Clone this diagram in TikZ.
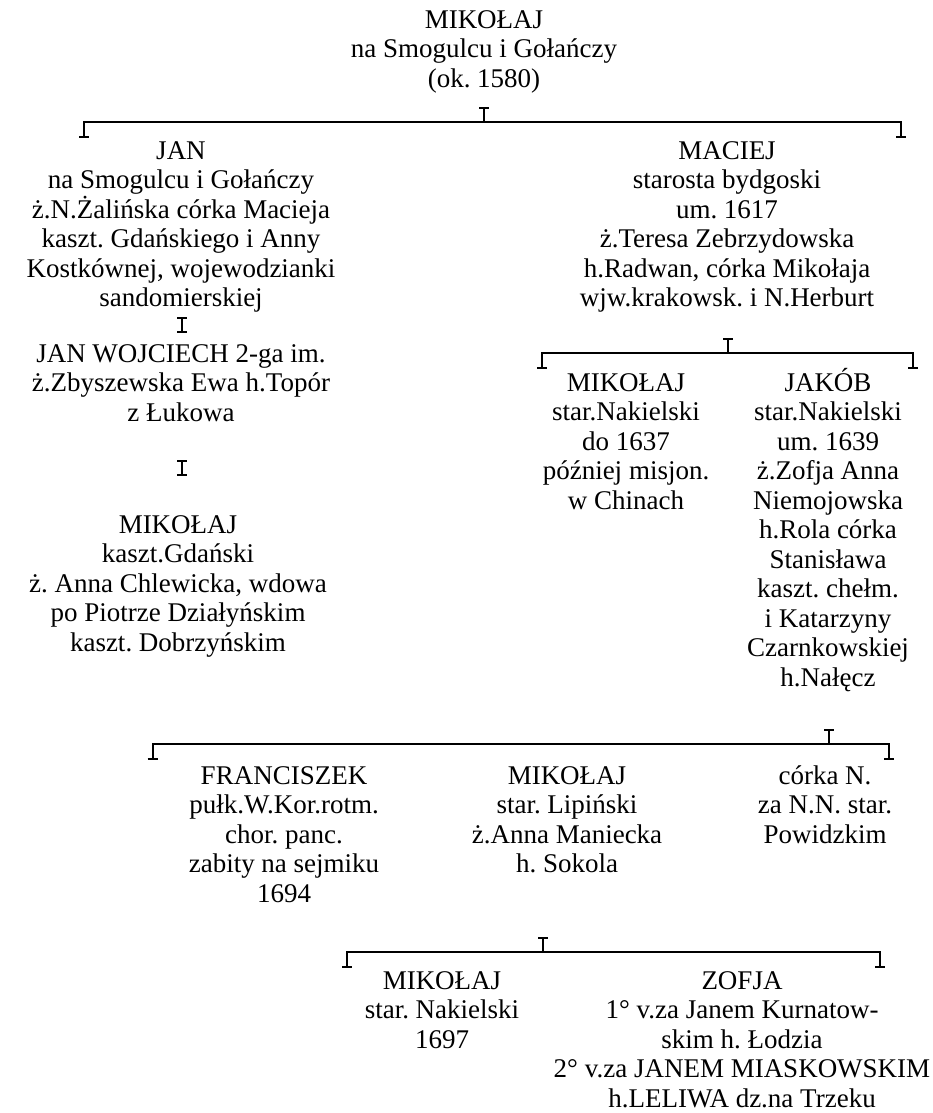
\documentclass[tikz,border=0pt]{standalone}
\usepackage{fontspec}
\setmainfont{Liberation Serif}
\usetikzlibrary{calc}
\frenchspacing

% fixed-height strut so every block hangs from the same first-line top
\newcommand\lnstrut{\rule{0pt}{25pt}}

\tikzset{
  person/.style={anchor=north, align=center, inner sep=0pt,
                 font=\fontsize{27}{29.5}\selectfont},
  link/.style={line width=2pt, line cap=butt, line join=miter},
}

% family bracket: name, left x, right x, stem x, y of the bar
\newcommand\famlink[5]{%
  \coordinate (#1L) at (#2,#5);
  \coordinate (#1R) at (#3,#5);
  \coordinate (#1T) at (#4,#5);
  \draw[link] ($(#1L)+(0,15)$) -- (#1L) -- (#1R) -- ++(0,15);
  \draw[link] ($(#1L)+(-5,15)$) -- ++(10,0);
  \draw[link] ($(#1R)+(-5,15)$) -- ++(10,0);
  \draw[link] (#1T) -- ++(0,-14) ++(-5,0) -- ++(10,0);
}
% single line of descent: name, x, top y, bottom y
\newcommand\onelink[4]{%
  \coordinate (#1a) at (#2,#3);
  \coordinate (#1b) at (#2,#4);
  \draw[link] (#1a) -- (#1b);
  \draw[link] ($(#1a)+(-5,0)$) -- ++(10,0);
  \draw[link] ($(#1b)+(-5,0)$) -- ++(10,0);
}

\begin{document}
\begin{tikzpicture}[x=1pt,y=-1pt]
\useasboundingbox[fill=white] (0,0) rectangle (933,1113);

% generation 1
\node[person] (mikolaj0) at (484,3)
  {\lnstrut MIKOŁAJ\\na Smogulcu i Gołańczy\\(ok. 1580)};

\famlink{g1}{84}{901}{484.3}{121.7}

% generation 2
\node[person] (jan) at (181,134)
  {\lnstrut JAN\\na Smogulcu i Gołańczy\\ż.N.Żalińska córka Macieja\\kaszt. Gdańskiego i Anny\\Kostkównej, wojewodzianki\\sandomierskiej};
\node[person] (maciej) at (727,134)
  {\lnstrut MACIEJ\\starosta bydgoski\\um. 1617\\ż.Teresa Zebrzydowska\\h.Radwan, córka Mikołaja\\wjw.krakowsk. i N.Herburt};

\onelink{d1}{182}{318}{332}
\node[person] (janwojciech) at (181,337)
  {\lnstrut JAN WOJCIECH 2-ga im.\\ż.Zbyszewska Ewa h.Topór\\z Łukowa};
\onelink{d2}{182}{461}{475}
\node[person] (mikolajk) at (178,508)
  {\lnstrut MIKOŁAJ\\kaszt.Gdański\\ż. Anna Chlewicka, wdowa\\po Piotrze Działyńskim\\kaszt. Dobrzyńskim};

\famlink{g2}{542}{913}{728}{353.3}

% generation 3 (sons of Maciej)
\node[person] (mikolajn) at (626,366)
  {\lnstrut MIKOŁAJ\\star.Nakielski\\do 1637\\później misjon.\\w Chinach};
\node[person] (jakob) at (828,366)
  {\lnstrut JAKÓB\\star.Nakielski\\um. 1639\\ż.Zofja Anna\\Niemojowska\\h.Rola córka\\Stanisława\\kaszt. chełm.\\i Katarzyny\\Czarnkowskiej\\h.Nałęcz};

\famlink{g3}{152.7}{889.3}{829}{744.3}

% generation 4 (children of Jakób)
\node[person] (franciszek) at (284,759)
  {\lnstrut FRANCISZEK\\pułk.W.Kor.rotm.\\chor. panc.\\zabity na sejmiku\\1694};
\node[person] (mikolajl) at (567,759)
  {\lnstrut MIKOŁAJ\\star. Lipiński\\ż.Anna Maniecka\\h. Sokola};
\node[person] (corka) at (825,759)
  {\lnstrut córka N.\\za N.N. star.\\Powidzkim};

\famlink{g4}{347}{880}{543}{951.5}

% generation 5 (children of Mikołaj, star. Lipiński)
\node[person] (mikolajs) at (442,964)
  {\lnstrut MIKOŁAJ\\star. Nakielski\\1697};
\node[person] (zofja) at (742,964)
  {\lnstrut ZOFJA\\1° v.za Janem Kurnatow-\\skim h. Łodzia\\2° v.za JANEM MIASKOWSKIM\\h.LELIWA dz.na Trzeku};
\end{tikzpicture}
\end{document}
